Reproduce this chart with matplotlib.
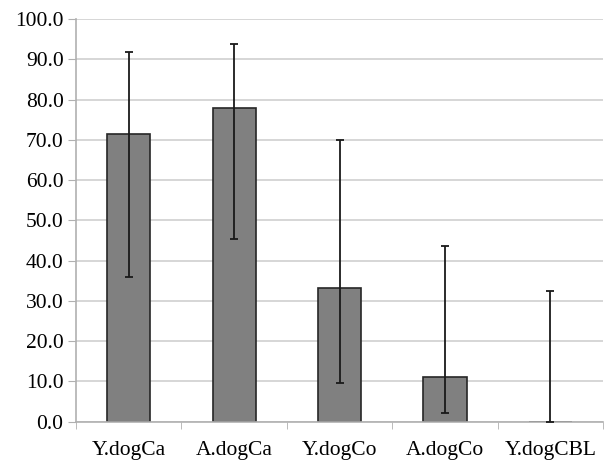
import matplotlib.pyplot as plt
import numpy as np

categories = ['Y.dogCa', 'A.dogCa', 'Y.dogCo', 'A.dogCo', 'Y.dogCBL']
means = [71.4, 77.8, 33.3, 11.1, 0.0]
err_upper = [91.9, 93.8, 70.0, 43.6, 32.4]
err_lower = [36.0, 45.4, 9.6, 2.1, 0.0]

plt.rcParams['font.family'] = ['Liberation Serif', 'DejaVu Serif']

fig = plt.figure(figsize=(6.1, 4.62), dpi=100)
ax = fig.add_axes([0.1246, 0.0872, 0.864, 0.8717])

x = np.arange(len(categories))
means_arr = np.array(means)
yerr = [means_arr - np.array(err_lower), np.array(err_upper) - means_arr]

ax.bar(x, means, width=0.41, color='#808080', edgecolor='#262626', linewidth=1.2, zorder=2)
ax.errorbar(x, means, yerr=yerr, fmt='none', ecolor='#1a1a1a', elinewidth=1.3,
            capsize=3, capthick=1.3, zorder=3)

ax.set_xlim(-0.5, len(categories) - 0.5)
ax.set_ylim(0, 100)
ax.set_yticks(np.arange(0, 101, 10))
ax.set_yticklabels([f'{v:.1f}' for v in np.arange(0, 101, 10)])
ax.yaxis.grid(True, color='#d0d0d0', linewidth=1.2, zorder=0)
ax.set_axisbelow(True)

ax.set_xticks(x)
ax.set_xticklabels(categories)
ax.set_xticks(np.arange(-0.5, len(categories), 1), minor=True)
ax.tick_params(axis='x', which='major', length=0, pad=14, labelsize=15.5)
ax.tick_params(axis='x', which='minor', length=5, color='#b0b0b0')
ax.tick_params(axis='y', length=6, color='#b0b0b0', labelsize=15.5, pad=3)

for side in ['top', 'right']:
    ax.spines[side].set_visible(False)
for side in ['left', 'bottom']:
    ax.spines[side].set_color('#b0b0b0')
    ax.spines[side].set_linewidth(1.2)

plt.savefig('out.png', dpi=100)
